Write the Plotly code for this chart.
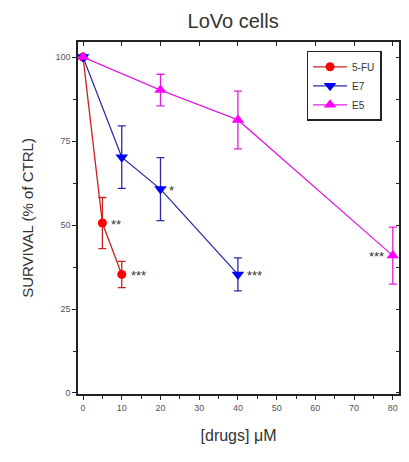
import plotly.graph_objects as go

fu_x = [0, 5, 10]
fu_y = [100, 50.6, 35.3]
fu_err = [0, 7.6, 3.9]

e7_x = [0, 10, 20, 40]
e7_y = [100, 70.2, 60.7, 35.3]
e7_err = [0, 9.3, 9.4, 4.9]

e5_x = [0, 20, 40, 80]
e5_y = [100, 90.2, 81.3, 40.9]
e5_err = [0, 4.7, 8.6, 8.5]

x_ticks = [0, 10, 20, 30, 40, 50, 60, 70, 80]
y_ticks = [0, 25, 50, 75, 100]

# significance labels
sig_x = [5, 10, 20, 40, 80]
sig_y = [50.6, 35.3, 60.7, 35.3, 40.9]
sig_t = ["**", "***", "*", "***", "***"]
sig_side = ["right", "right", "right", "right", "left"]

FONT = "Liberation Sans, Arial, sans-serif"
fig = go.Figure()

def add(x, y, err, name, mcol, lcol, sym, size):
    fig.add_trace(go.Scatter(
        x=x, y=y, name=name, mode="lines+markers",
        line=dict(color=lcol, width=1.3),
        marker=dict(color=mcol, symbol=sym, size=size, line=dict(width=0)),
        error_y=dict(type="data", array=err, visible=True, color=lcol, thickness=1.3, width=4),
    ))

add(fu_x, fu_y, fu_err, "5-FU", "#ff0000", "#cc2020", "circle", 9)
add(e7_x, e7_y, e7_err, "E7", "#0000ff", "#2a2aa8", "triangle-down", 11)
add(e5_x, e5_y, e5_err, "E5", "#ff00ff", "#e020e0", "triangle-up", 11)

for x, y, t, s in zip(sig_x, sig_y, sig_t, sig_side):
    fig.add_annotation(x=x, y=y, text=t, showarrow=False,
                       xanchor="left" if s == "right" else "right",
                       xshift=7 if s == "right" else -7, yshift=-1,
                       font=dict(size=13, color="#333333", family=FONT))

xr = [-1.3, 81.6]
yr = [-0.3, 104.5]
axis_common = dict(showline=True, linecolor="#222222", linewidth=1.5, showgrid=False,
                   zeroline=False, tickcolor="#222222", ticklen=4, tickwidth=1.2, automargin=False,
                   tickfont=dict(size=9, color="#555555", family=FONT))

fig.update_layout(
    width=409, height=462,
    margin=dict(l=78, r=10, t=42, b=68, autoexpand=False),
    paper_bgcolor="white", plot_bgcolor="white",
    title=dict(text="LoVo cells", x=0.57, xanchor="center", y=0.955, yanchor="middle",
               font=dict(size=20, color="#333333", family=FONT)),
    xaxis=dict(range=xr, tickvals=x_ticks, ticks="outside",
               minor=dict(tickvals=[5, 15, 25, 35, 45, 55, 65, 75], ticks="outside", ticklen=3, tickcolor="#222222"),
               title=dict(text="[drugs] μM", font=dict(size=16, color="#333333", family=FONT), standoff=18),
               **axis_common),
    yaxis=dict(range=yr, tickvals=y_ticks, ticks="outside",
               minor=dict(tickvals=[12.5, 37.5, 62.5, 87.5], ticks="outside", ticklen=3, tickcolor="#222222"),
               title=dict(text="SURVIVAL (% of CTRL)", font=dict(size=15, color="#333333", family=FONT), standoff=18),
               **axis_common),
    xaxis2=dict(range=xr, overlaying="x", side="top", anchor="y2", tickvals=x_ticks, ticks="inside",
                showticklabels=False, showline=True, linecolor="#222222", linewidth=1.5, automargin=False,
                showgrid=False, zeroline=False, ticklen=4, tickcolor="#222222"),
    yaxis2=dict(range=yr, overlaying="y", side="right", anchor="x2", tickvals=[0, 12.5, 25, 37.5, 50, 62.5, 75, 87.5, 100], ticks="inside",
                showticklabels=False, showline=True, linecolor="#222222", linewidth=1.5, automargin=False,
                showgrid=False, zeroline=False, ticklen=3, tickcolor="#222222"),
    legend=dict(x=0.712, y=0.975, xanchor="left", yanchor="top",
                bordercolor="#222222", borderwidth=1.5, bgcolor="white",
                font=dict(size=10, color="#333333", family=FONT),
                tracegroupgap=0, itemwidth=34),
    showlegend=True,
)
fig.add_trace(go.Scatter(x=[0], y=[0], xaxis="x2", yaxis="y2", mode="markers",
                         marker=dict(opacity=0), showlegend=False, hoverinfo="skip"))

fig.write_html("out.html", config={"displayModeBar": False},
               post_script="document.body.style.margin='0px';document.body.style.overflow='hidden';")
